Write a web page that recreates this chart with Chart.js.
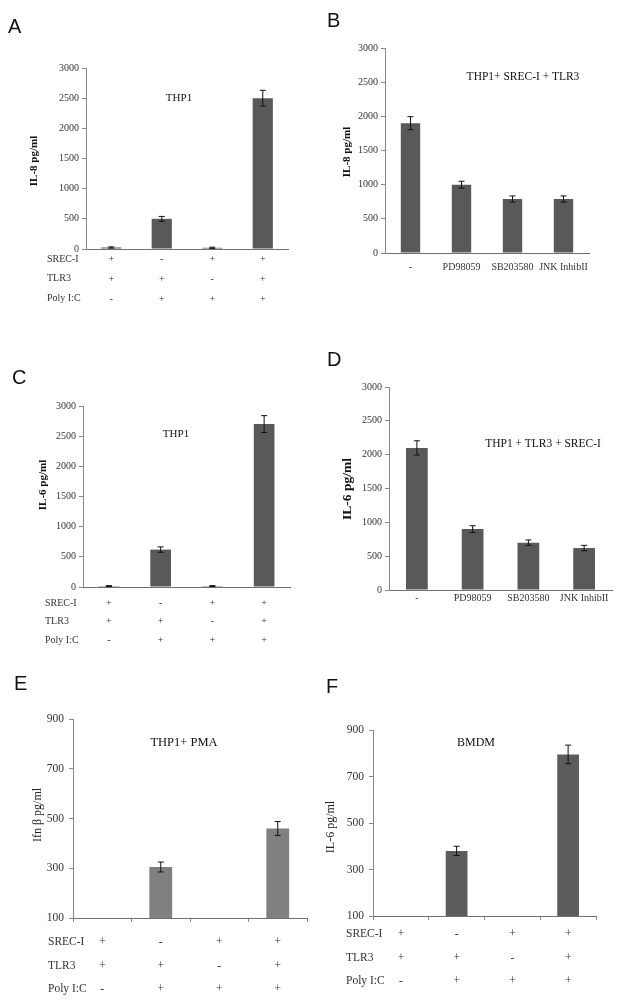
<!DOCTYPE html>
<html>
<head>
<meta charset="utf-8">
<script src="https://cdn.jsdelivr.net/npm/chart.js@4"></script>
<style>
  body { margin: 0; background: #fff; }
  #page { position: relative; width: 617px; height: 1004px; overflow: hidden; }
  #page canvas { position: absolute; left: 0; top: 0; }
  .txt { position: absolute; white-space: nowrap; line-height: 1; color: #222; font-family: "Liberation Serif", "Times New Roman", serif; }
  .letter { position: absolute; line-height: 1; font-family: "Liberation Sans", Arial, sans-serif; font-size: 20px; color: #111; }
</style>
</head>
<body>
<div id="page">
  <canvas id="chartA" width="617" height="1004"></canvas>
  <canvas id="chartB" width="617" height="1004"></canvas>
  <canvas id="chartC" width="617" height="1004"></canvas>
  <canvas id="chartD" width="617" height="1004"></canvas>
  <canvas id="chartE" width="617" height="1004"></canvas>
  <canvas id="chartF" width="617" height="1004"></canvas>
</div>
<script>
// --- DATA ---
const rowNames = ['SREC-I', 'TLR3', 'Poly I:C'];
const srecRow = ['+', '-', '+', '+'];
const tlr3Row = ['+', '+', '-', '+'];
const polyRow = ['-', '+', '+', '+'];
const inhibitorLabels = ['-', 'PD98059', 'SB203580', 'JNK InhibII'];

const il8Thp1 = [25, 500, 20, 2500];
const il8Thp1Err = [10, 40, 10, 130];
const il8Inhib = [1900, 1000, 790, 790];
const il8InhibErr = [95, 50, 45, 45];
const il6Thp1 = [15, 620, 15, 2700];
const il6Thp1Err = [8, 45, 8, 140];
const il6Inhib = [2100, 900, 700, 620];
const il6InhibErr = [105, 50, 40, 40];
const ifnbPma = [null, 305, null, 460];
const ifnbPmaErr = [0, 20, 0, 28];
const il6Bmdm = [null, 380, null, 795];
const il6BmdmErr = [0, 20, 0, 40];

const W = 617, H = 1004;
const SERIF = '"Liberation Serif", "Times New Roman", serif';
const toggleLabels = srecRow.map((s, i) => [s, tlr3Row[i], polyRow[i]]);

// error bars drawn from the y scale
const errorBars = {
    id: 'errorBars',
    afterDatasetsDraw(chart) {
        const ctx = chart.ctx;
        const y = chart.scales.y;
        chart.data.datasets.forEach((ds, i) => {
            chart.getDatasetMeta(i).data.forEach((bar, j) => {
                const v = ds.data[j], e = ds.errors[j];
                if (v == null || !e) return;
                const top = y.getPixelForValue(v + e);
                const bot = y.getPixelForValue(v - e);
                ctx.save();
                ctx.strokeStyle = '#111';
                ctx.lineWidth = 1;
                ctx.beginPath();
                ctx.moveTo(bar.x, top); ctx.lineTo(bar.x, bot);
                ctx.moveTo(bar.x - 3, top); ctx.lineTo(bar.x + 3, top);
                ctx.moveTo(bar.x - 3, bot); ctx.lineTo(bar.x + 3, bot);
                ctx.stroke();
                ctx.restore();
            });
        });
    }
};

function makePanel(id, p) {
    new Chart(document.getElementById(id), {
        type: 'bar',
        data: {
            labels: p.labels,
            datasets: [{ data: p.values, errors: p.errors, backgroundColor: p.color,
                categoryPercentage: 1, barPercentage: p.barPct }]
        },
        options: {
            responsive: false, animation: false, events: [],
            layout: { padding: { left: 0, top: p.area.top, right: W - p.area.right, bottom: H - p.area.bottom - p.xHeight } },
            plugins: { legend: { display: false }, tooltip: { enabled: false } },
            scales: {
                x: {
                    grid: { drawOnChartArea: false, drawTicks: p.xTicks, tickLength: 4, color: '#888' },
                    border: { color: '#707070' },
                    ticks: { color: '#333', padding: p.xPad, maxRotation: 0, autoSkip: false,
                        font: { family: SERIF, size: p.fontSize, lineHeight: p.lineH + 'px' } },
                    afterFit: s => { s.height = p.xHeight; }
                },
                y: {
                    min: p.min, max: p.max,
                    grid: { drawOnChartArea: false, tickLength: 4, color: '#888' },
                    border: { color: '#888' },
                    ticks: { stepSize: p.step, color: '#333', padding: p.yPad, callback: v => String(v),
                        font: { family: SERIF, size: p.fontSize } },
                    afterFit: s => { s.width = p.area.left; }
                }
            }
        },
        plugins: [errorBars]
    });
}

makePanel('chartA', { labels: toggleLabels, values: il8Thp1, errors: il8Thp1Err, color: '#595959', barPct: 0.4,
    area: { left: 86, right: 288, top: 68, bottom: 249 }, min: 0, max: 3000, step: 500,
    fontSize: 10, lineH: 20, xPad: 0, xHeight: 62, xTicks: false, yPad: 3 });
makePanel('chartB', { labels: inhibitorLabels, values: il8Inhib, errors: il8InhibErr, color: '#595959', barPct: 0.38,
    area: { left: 385, right: 589, top: 48, bottom: 253 }, min: 0, max: 3000, step: 500,
    fontSize: 10, lineH: 12, xPad: 8, xHeight: 22, xTicks: false, yPad: 3 });
makePanel('chartC', { labels: toggleLabels, values: il6Thp1, errors: il6Thp1Err, color: '#595959', barPct: 0.4,
    area: { left: 83, right: 290, top: 406, bottom: 587 }, min: 0, max: 3000, step: 500,
    fontSize: 10, lineH: 18.5, xPad: 6.75, xHeight: 64, xTicks: false, yPad: 3 });
makePanel('chartD', { labels: inhibitorLabels, values: il6Inhib, errors: il6InhibErr, color: '#595959', barPct: 0.39,
    area: { left: 389, right: 612, top: 387, bottom: 590 }, min: 0, max: 3000, step: 500,
    fontSize: 10, lineH: 12, xPad: 2, xHeight: 16, xTicks: false, yPad: 3 });
makePanel('chartE', { labels: toggleLabels, values: ifnbPma, errors: ifnbPmaErr, color: '#808080', barPct: 0.39,
    area: { left: 73, right: 307, top: 719, bottom: 918 }, min: 100, max: 900, step: 200,
    fontSize: 11.5, lineH: 23.5, xPad: 8.25, xHeight: 83, xTicks: true, yPad: 5 });
makePanel('chartF', { labels: toggleLabels, values: il6Bmdm, errors: il6BmdmErr, color: '#5c5c5c', barPct: 0.39,
    area: { left: 373, right: 596, top: 730, bottom: 916 }, min: 100, max: 900, step: 200,
    fontSize: 11.5, lineH: 23.5, xPad: 2.25, xHeight: 77, xTicks: true, yPad: 5 });

// --- TEXT ---
const page = document.getElementById('page');
function addText(txt, x, y, css, anchor) {
    const d = document.createElement('div');
    d.className = 'txt';
    d.textContent = txt;
    d.style.left = x + 'px';
    d.style.top = y + 'px';
    d.style.cssText += css || '';
    d.style.transform = anchor === 'l' ? 'translate(0,-50%)'
        : anchor === 'v' ? 'translate(-50%,-50%) rotate(-90deg)' : 'translate(-50%,-50%)';
    page.appendChild(d);
}
function addLetter(ch, x, baseline) {
    const d = document.createElement('div');
    d.className = 'letter';
    d.textContent = ch;
    d.style.left = x + 'px';
    d.style.top = (baseline - 17) + 'px';
    page.appendChild(d);
}

addLetter('A', 8, 33); addLetter('B', 327, 27);
addLetter('C', 12, 384); addLetter('D', 327, 366);
addLetter('E', 14, 690); addLetter('F', 326, 693);

addText('THP1', 179, 97, 'font-size:11px;color:#111;');
addText('THP1+ SREC-I + TLR3', 523, 77, 'font-size:11.5px;color:#111;');
addText('THP1', 176, 433, 'font-size:11px;color:#111;');
addText('THP1 + TLR3 + SREC-I', 543, 444, 'font-size:11.5px;color:#111;');
addText('THP1+ PMA', 184, 742, 'font-size:12.5px;color:#111;');
addText('BMDM', 476, 742, 'font-size:12px;color:#111;');

addText('IL-8 pg/ml', 33, 161, 'font-size:11px;font-weight:bold;color:#111;', 'v');
addText('IL-8 pg/ml', 346, 152, 'font-size:11px;font-weight:bold;color:#111;', 'v');
addText('IL-6 pg/ml', 42, 485, 'font-size:11px;font-weight:bold;color:#111;', 'v');
addText('IL-6 pg/ml', 347, 489, 'font-size:13.5px;font-weight:bold;color:#111;', 'v');
addText('Ifn \u03b2 pg/ml', 37, 815, 'font-size:12px;', 'v');
addText('IL-6 pg/ml', 330, 827, 'font-size:12px;', 'v');

const rowSets = [
    { x: 47, ys: [259, 278, 298], size: 10 },
    { x: 45, ys: [603, 621, 640], size: 10 },
    { x: 48, ys: [942, 966, 989], size: 11.5 },
    { x: 346, ys: [934, 958, 981], size: 11.5 }
];
rowSets.forEach(r => rowNames.forEach((n, i) => addText(n, r.x, r.ys[i], 'font-size:' + r.size + 'px;color:#333;', 'l')));
</script>
</body>
</html>
